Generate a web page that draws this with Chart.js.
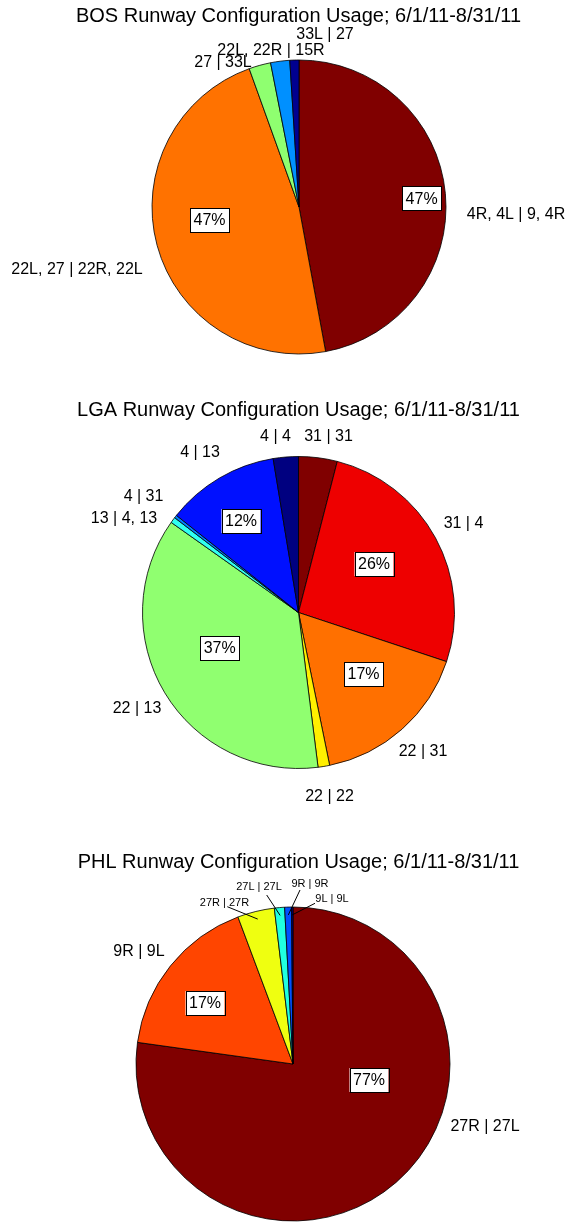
<!DOCTYPE html>
<html>
<head>
<meta charset="utf-8">
<title>Runway Configuration Usage</title>
<script src="https://cdn.jsdelivr.net/npm/chart.js@4.4.0/dist/chart.umd.min.js"></script>
<style>
  html, body { margin: 0; padding: 0; background: #fff; overflow: hidden; }
  canvas { position: absolute; left: 0; }
</style>
</head>
<body>
<canvas id="bos" width="571" height="395" style="top:0"></canvas>
<canvas id="lga" width="571" height="430" style="top:395px"></canvas>
<canvas id="phl" width="571" height="397" style="top:825px"></canvas>
<script>
// shares of time (%) per runway configuration, clockwise from 12 o'clock
const bosConfigs = ['4R, 4L | 9, 4R', '22L, 27 | 22R, 22L', '27 | 33L', '22L, 22R | 15R', '33L | 27'];
const bosShare = [47.1, 47.4, 2.4, 2.1, 1.0];

const lgaConfigs = ['31 | 31', '31 | 4', '22 | 31', '22 | 22', '22 | 13', '13 | 4, 13', '4 | 31', '4 | 13', '4 | 4'];
const lgaShare = [4.0, 26.1, 16.7, 1.2, 36.8, 0.6, 0.3, 11.7, 2.6];

const phlConfigs = ['27R | 27L', '9R | 9L', '27R | 27R', '27L | 27L', '9R | 9R', '9L | 9L'];
const phlShare = [77.2, 17.1, 3.8, 1.05, 0.7, 0.15];

const period = '6/1/11-8/31/11';
const FONT = '"Liberation Sans", Arial, Helvetica, sans-serif';

// draws title, slice names and the boxed percentages
const annotate = {
  id: 'annotate',
  afterDatasetsDraw(chart, args, opts) {
    const ctx = chart.ctx;
    const arcs = chart.getDatasetMeta(0).data;
    const cx = arcs[0].x, cy = arcs[0].y, r = arcs[0].outerRadius;
    const values = chart.data.datasets[0].data;
    ctx.save();
    ctx.fillStyle = '#000';
    ctx.textAlign = 'center';
    ctx.textBaseline = 'middle';

    ctx.font = '20px ' + FONT;
    ctx.fillText(opts.title, opts.titleAt[0], opts.titleAt[1]);

    // leader lines for the tiny slices
    ctx.strokeStyle = '#000';
    ctx.lineWidth = 1;
    (opts.leaders || []).forEach((ld, i) => {
      if (!ld) return;
      const a = arcs[i];
      const mid = (a.startAngle + a.endAngle) / 2;
      ctx.beginPath();
      ctx.moveTo(cx + ld[0], cy + ld[1]);
      ctx.lineTo(cx + 0.95 * r * Math.cos(mid), cy + 0.95 * r * Math.sin(mid));
      ctx.stroke();
    });

    chart.data.labels.forEach((lab, i) => {
      const p = opts.labelAt[i];
      ctx.font = (opts.smallLabels && opts.smallLabels[i] ? '11px ' : '16px ') + FONT;
      ctx.fillText(lab, cx + p[0], cy + p[1]);
    });

    ctx.font = '16px ' + FONT;
    values.forEach((v, i) => {
      const p = opts.boxAt[i];
      if (!p) return;
      const x = cx + p[0], y = cy + p[1];
      const w = 39, h = 24;
      ctx.fillStyle = '#fff';
      ctx.fillRect(x - w / 2, y - h / 2, w, h);
      ctx.strokeStyle = '#000';
      ctx.strokeRect(Math.round(x - w / 2) + 0.5, Math.round(y - h / 2) + 0.5, w, h);
      ctx.fillStyle = '#000';
      ctx.fillText(Math.round(v) + '%', x, y + 1);
    });
    ctx.restore();
  }
};

function makePie(id, configs, share, colors, r, padding, note) {
  return new Chart(document.getElementById(id), {
    type: 'pie',
    data: {
      labels: configs,
      datasets: [{
        data: share,
        backgroundColor: colors,
        borderColor: '#000',
        borderWidth: 0.8,
        hoverOffset: 0
      }]
    },
    options: {
      responsive: false,
      animation: false,
      radius: r,
      layout: { padding: padding },
      events: [],
      plugins: {
        legend: { display: false },
        tooltip: { enabled: false },
        annotate: note
      }
    },
    plugins: [annotate]
  });
}

makePie('bos', bosConfigs, bosShare,
  ['#800000', '#FF7200', '#8FFF70', '#0090FF', '#000090'],
  147, { left: 149, right: 122, top: 57, bottom: 38 },
  {
    title: 'BOS Runway Configuration Usage; ' + period,
    titleAt: [298.5, 16],
    labelAt: [[217, 8], [-222, 63], [-76, -144], [-28, -156], [26, -172]],
    boxAt: [[122.6, -8.7], [-89.5, 13], null, null, null]
  });

makePie('lga', lgaConfigs, lgaShare,
  ['#800000', '#EE0000', '#FF7000', '#FFEF00', '#90FF70', '#30FFF0', '#0080FF', '#0010FF', '#000080'],
  156, { left: 139.5, right: 113.5, top: 58.5, bottom: 53.5 },
  {
    title: 'LGA Runway Configuration Usage; ' + period,
    titleAt: [298.5, 15],
    labelAt: [[30, -175.5], [165, -88.5], [124.5, 139], [31, 184], [-161.5, 96.5],
              [-174.5, -93.5], [-155, -115.5], [-98.5, -159.5], [-23, -175.5]],
    boxAt: [null, [75.5, -48.5], [65, 61.5], null, [-78.8, 35.5], null, null, [-57.5, -91.5], null]
  });

makePie('phl', phlConfigs, phlShare,
  ['#800000', '#FF4500', '#EFFF10', '#20FFE0', '#0050FF', '#000090'],
  157, { left: 135, right: 120, top: 81, bottom: 0 },
  {
    title: 'PHL Runway Configuration Usage; ' + period,
    titleAt: [298.5, 37],
    labelAt: [[192, 63], [-154, -112], [-68.5, -161.3], [-34, -177.3], [17, -180], [39, -165]],
    smallLabels: [false, false, true, true, true, true],
    leaders: [null, null, [-65.7, -157.3], [-26.3, -169], [7, -174], [22, -160.7]],
    boxAt: [[76, 16], [-88, -61], null, null, null, null]
  });
</script>
</body>
</html>
